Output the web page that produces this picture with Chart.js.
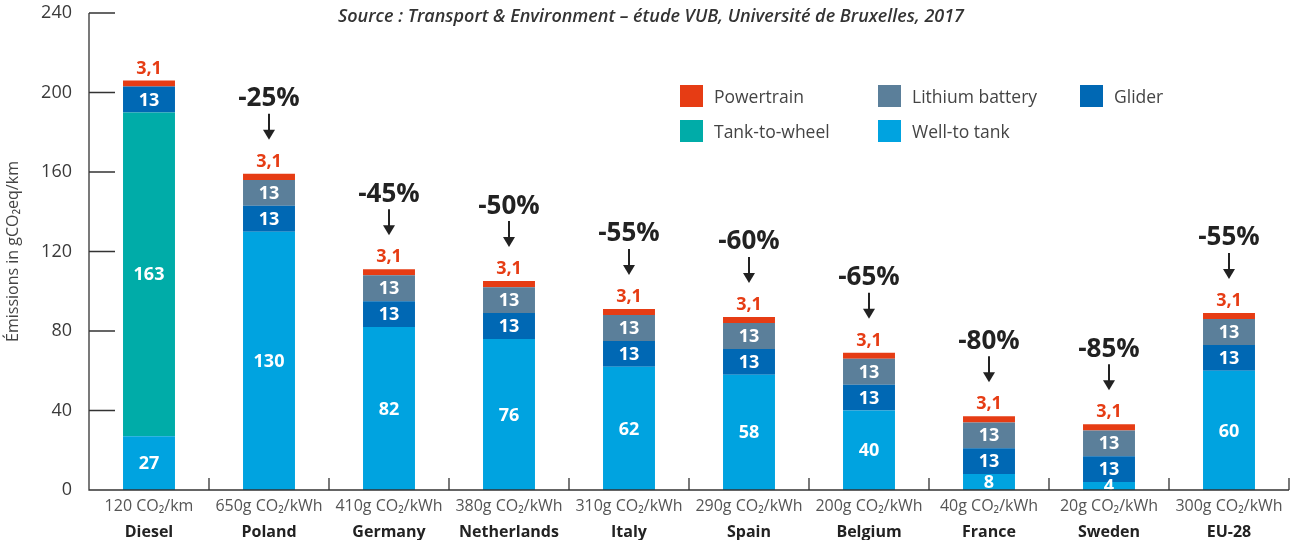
<!DOCTYPE html>
<html lang="fr">
<head>
  <meta charset="UTF-8" />
  <title>Émissions par pays</title>
  <script src="https://cdn.jsdelivr.net/npm/chart.js"></script>
  <style>
    body { margin: 0; background: #fff; font-family: "Open Sans", sans-serif; }
    .wrap { position: relative; width: 1294px; height: 540px; }
    .source {
      position: absolute; top: 3px; left: 0; width: 1302px; text-align: center;
      font-style: italic; font-weight: 600; font-size: 18px; color: #333;
    }
    .legend {
      position: absolute; left: 680px; top: 84px;
      display: grid; grid-template-columns: 198px 202px 120px; row-gap: 12px;
      font-size: 17.5px; color: #444;
    }
    .legend div { display: flex; align-items: center; height: 23px; }
    .legend span.box { width: 23px; height: 22px; margin-right: 11px; display: inline-block; }
  </style>
</head>
<body>
  <div class="wrap">
    <canvas id="chart" width="1294" height="540"></canvas>
    <div class="source">Source : Transport &amp; Environment – étude VUB, Université de Bruxelles, 2017</div>
    <div class="legend" id="legend"></div>
  </div>

  <script>
    const countries = ['Diesel', 'Poland', 'Germany', 'Netherlands', 'Italy', 'Spain', 'Belgium', 'France', 'Sweden', 'EU-28'];
    const intensities = ['120 CO₂/km', '650g CO₂/kWh', '410g CO₂/kWh', '380g CO₂/kWh', '310g CO₂/kWh',
                         '290g CO₂/kWh', '200g CO₂/kWh', '40g CO₂/kWh', '20g CO₂/kWh', '300g CO₂/kWh'];
    const wellToTank = [27, 130, 82, 76, 62, 58, 40, 8, 4, 60];
    const tankToWheel = [163, 0, 0, 0, 0, 0, 0, 0, 0, 0];
    const glider = [13, 13, 13, 13, 13, 13, 13, 13, 13, 13];
    const battery = [0, 13, 13, 13, 13, 13, 13, 13, 13, 13];
    const powertrain = [3.1, 3.1, 3.1, 3.1, 3.1, 3.1, 3.1, 3.1, 3.1, 3.1];
    const reductions = ['', '-25%', '-45%', '-50%', '-55%', '-60%', '-65%', '-80%', '-85%', '-55%'];
    const yTicks = [0, 40, 80, 120, 160, 200, 240];

    const RED = '#e63c14';
    const datasets = [
      { label: 'Well-to tank', data: wellToTank, backgroundColor: '#00a3e0' },
      { label: 'Tank-to-wheel', data: tankToWheel, backgroundColor: '#00aca8' },
      { label: 'Glider', data: glider, backgroundColor: '#0068b4' },
      { label: 'Lithium battery', data: battery, backgroundColor: '#5b7f9a' },
      { label: 'Powertrain', data: powertrain, backgroundColor: RED }
    ];
    datasets.forEach(d => { d.barPercentage = 0.433; d.categoryPercentage = 1; });

    // legend: same order as the original (3 columns)
    const legendOrder = ['Powertrain', 'Lithium battery', 'Glider', 'Tank-to-wheel', 'Well-to tank'];
    const legend = document.getElementById('legend');
    legendOrder.forEach(name => {
      const ds = datasets.find(d => d.label === name);
      const item = document.createElement('div');
      item.innerHTML = `<span class="box" style="background:${ds.backgroundColor}"></span>${name}`;
      legend.appendChild(item);
    });

    // axis lines with inward ticks
    const axisTicks = {
      id: 'axisTicks',
      afterDraw(chart) {
        const ctx = chart.ctx, x = chart.scales.x, y = chart.scales.y, area = chart.chartArea;
        ctx.save();
        ctx.strokeStyle = '#333';
        ctx.lineWidth = 1.3;
        ctx.beginPath();
        ctx.moveTo(area.left, y.getPixelForValue(240));
        ctx.lineTo(area.left, area.bottom);
        ctx.lineTo(area.right, area.bottom);
        yTicks.forEach(v => {
          const py = y.getPixelForValue(v);
          ctx.moveTo(area.left, py);
          ctx.lineTo(area.left + 26, py);
        });
        const step = (area.right - area.left) / countries.length;
        for (let i = 1; i <= countries.length; i++) {
          const px = x.getPixelForValue(i - 1) + step / 2;
          ctx.moveTo(px, area.bottom);
          ctx.lineTo(px, area.bottom - 12);
        }
        ctx.stroke();
        ctx.restore();
      }
    };

    // value labels, percent changes and arrows
    const barLabels = {
      id: 'barLabels',
      afterDatasetsDraw(chart) {
        const ctx = chart.ctx, area = chart.chartArea;
        ctx.save();
        ctx.textAlign = 'center';
        ctx.textBaseline = 'middle';
        // inside labels
        ctx.save();
        ctx.beginPath();
        ctx.rect(area.left, area.top, area.right - area.left, area.bottom - area.top);
        ctx.clip();
        ctx.font = 'bold 18px "Open Sans"';
        ctx.fillStyle = '#fff';
        for (let d = 0; d < 4; d++) {
          chart.getDatasetMeta(d).data.forEach((bar, i) => {
            const v = datasets[d].data[i];
            if (!v) return;
            ctx.fillText(String(v), bar.x, (bar.y + bar.base) / 2 + 1);
          });
        }
        ctx.restore();
        // powertrain label and percent above bar
        const top = chart.getDatasetMeta(4).data;
        top.forEach((bar, i) => {
          ctx.font = 'bold 18px "Open Sans"';
          ctx.fillStyle = RED;
          ctx.fillText(String(powertrain[i]).replace('.', ','), bar.x, bar.y - 12);
          if (!reductions[i]) return;
          ctx.font = 'bold 26px "Open Sans"';
          ctx.fillStyle = '#222';
          ctx.fillText(reductions[i], bar.x, bar.y - 75);
          ctx.strokeStyle = '#222';
          ctx.lineWidth = 2;
          ctx.beginPath();
          ctx.moveTo(bar.x, bar.y - 60);
          ctx.lineTo(bar.x, bar.y - 42);
          ctx.stroke();
          ctx.beginPath();
          ctx.moveTo(bar.x - 6, bar.y - 44);
          ctx.lineTo(bar.x + 6, bar.y - 44);
          ctx.lineTo(bar.x, bar.y - 34);
          ctx.closePath();
          ctx.fill();
        });
        ctx.restore();
      }
    };

    new Chart(document.getElementById('chart'), {
      type: 'bar',
      data: { labels: intensities, datasets },
      options: {
        responsive: false,
        animation: false,
        layout: { padding: { top: 13, right: 5, left: 0, bottom: 0 } },
        plugins: { legend: { display: false }, tooltip: { enabled: false } },
        scales: {
          x: {
            stacked: true,
            grid: { display: false, drawTicks: false },
            border: { display: false },
            ticks: { font: { family: 'Open Sans', size: 16 }, color: '#555', padding: 7, maxRotation: 0, autoSkip: false },
            afterFit: s => { s.height = 25; }
          },
          x2: {
            type: 'category',
            position: 'bottom',
            weight: 1,
            labels: countries,
            grid: { display: false, drawTicks: false },
            border: { display: false },
            ticks: { font: { family: 'Open Sans', size: 16, weight: 'bold' }, color: '#222', padding: 8, maxRotation: 0, autoSkip: false },
            afterFit: s => { s.height = 25; }
          },
          y: {
            stacked: true,
            min: 0,
            max: 240,
            grid: { display: false, drawTicks: false },
            border: { display: false },
            afterBuildTicks: s => { s.ticks = yTicks.map(v => ({ value: v })); },
            ticks: { font: { family: 'Open Sans', size: 18 }, color: '#3a3a3a', padding: 17 },
            title: { display: true, text: 'Émissions in gCO₂eq/km', font: { family: 'Open Sans', size: 16 }, color: '#444', padding: { top: 4 } },
            afterFit: s => { s.width = 89; s.paddingTop = 0; s.paddingBottom = 0; }
          }
        }
      },
      plugins: [axisTicks, barLabels]
    });
  </script>
</body>
</html>
